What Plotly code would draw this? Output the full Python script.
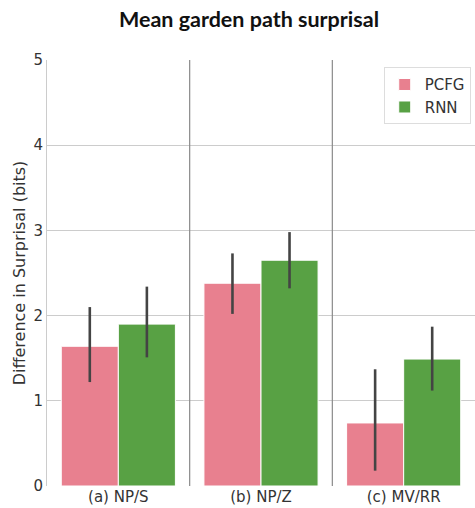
import plotly.graph_objects as go

categories = ["(a) NP/S", "(b) NP/Z", "(c) MV/RR"]
pcfg_mean = [1.64, 2.38, 0.74]
pcfg_low = [1.22, 2.02, 0.18]
pcfg_high = [2.10, 2.73, 1.37]
rnn_mean = [1.90, 2.65, 1.49]
rnn_low = [1.51, 2.32, 1.12]
rnn_high = [2.34, 2.98, 1.87]
y_ticks = [0, 1, 2, 3, 4, 5]

PINK = "#e8808f"
GREEN = "#58a144"

def err(mean, lo, hi):
    return dict(type="data", symmetric=False,
                array=[h - m for m, h in zip(mean, hi)],
                arrayminus=[m - l for m, l in zip(mean, lo)],
                color="#444444", thickness=2.6, width=0)

x_idx = list(range(len(categories)))

fig = go.Figure()
fig.add_trace(go.Bar(name="PCFG", x=x_idx, y=pcfg_mean, marker=dict(color=PINK, line=dict(color="white", width=1)),
                     error_y=err(pcfg_mean, pcfg_low, pcfg_high)))
fig.add_trace(go.Bar(name="RNN", x=x_idx, y=rnn_mean, marker=dict(color=GREEN, line=dict(color="white", width=1)),
                     error_y=err(rnn_mean, rnn_low, rnn_high)))

for i in range(len(categories) - 1):
    fig.add_shape(type="line", xref="x", yref="paper", x0=i + 0.5, x1=i + 0.5, y0=0, y1=1,
                  line=dict(color="#8a8a8a", width=1.2), layer="above")

fig.update_layout(
    width=475, height=508,
    margin=dict(l=47, r=0, t=60, b=22),
    paper_bgcolor="white", plot_bgcolor="white",
    barmode="group", bargap=0.2, bargroupgap=0,
    font=dict(family="DejaVu Sans", size=15, color="#333333"),
    title=dict(text="<b>Mean garden path surprisal</b>", x=249 / 475, xanchor="center", xref="container",
               y=1 - 19 / 508, yanchor="middle", font=dict(family="Lato", size=21.5, color="#111111")),
    legend=dict(x=0.99, y=0.983, xanchor="right", yanchor="top", bgcolor="white",
                bordercolor="#dddddd", borderwidth=1, font=dict(size=15, color="#333333"),
                tracegroupgap=2),
    xaxis=dict(range=[-0.5, 2.5], tickvals=x_idx, ticktext=categories, showgrid=False,
               zeroline=False, showline=False, ticks="", tickfont=dict(size=15)),
    yaxis=dict(range=[0, 5], tickvals=y_ticks, showgrid=True, gridcolor="#cccccc", gridwidth=1,
               zeroline=False, showline=True, linecolor="#cccccc", linewidth=1, ticks="",
               title=dict(text="Difference in Surprisal (bits)", standoff=3, font=dict(size=16)),
               tickfont=dict(size=15)),
)

fig.write_html("out.html", config={"displayModeBar": False},
               post_script="document.body.style.margin='0';document.body.style.overflow='hidden';"
                           "document.documentElement.style.overflow='hidden';")
